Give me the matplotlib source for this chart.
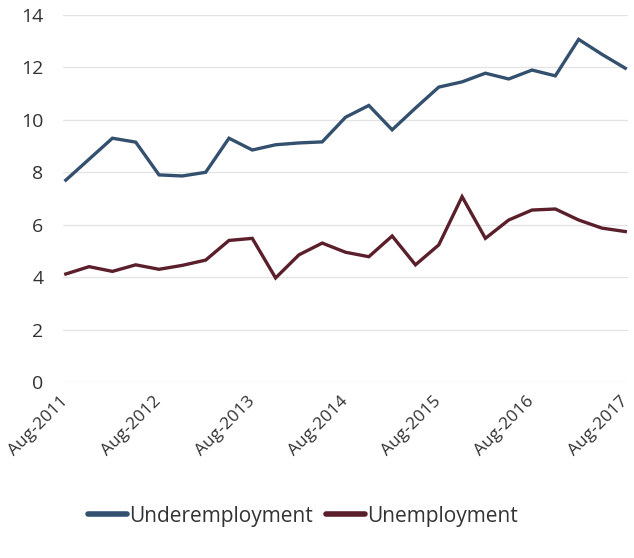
import matplotlib
matplotlib.use("Agg")
import matplotlib.pyplot as plt
import numpy as np

plt.rcParams['font.family'] = ['Open Sans', 'DejaVu Sans']

# quarterly series, Aug-2011 .. Aug-2017
quarters = ['Aug-2011', 'Nov-2011', 'Feb-2012', 'May-2012',
            'Aug-2012', 'Nov-2012', 'Feb-2013', 'May-2013',
            'Aug-2013', 'Nov-2013', 'Feb-2014', 'May-2014',
            'Aug-2014', 'Nov-2014', 'Feb-2015', 'May-2015',
            'Aug-2015', 'Nov-2015', 'Feb-2016', 'May-2016',
            'Aug-2016', 'Nov-2016', 'Feb-2017', 'May-2017',
            'Aug-2017']
underemployment = [7.7, 8.5, 9.3, 9.15, 7.9, 7.86, 8.0, 9.3, 8.85, 9.05,
                   9.12, 9.16, 10.1, 10.55, 9.62, 10.45, 11.25, 11.45,
                   11.78, 11.56, 11.9, 11.68, 13.07, 12.5, 11.97]
unemployment = [4.12, 4.4, 4.22, 4.47, 4.3, 4.45, 4.65, 5.4, 5.48, 3.97,
                4.85, 5.3, 4.95, 4.78, 5.57, 4.47, 5.23, 7.07, 5.48, 6.18,
                6.56, 6.6, 6.18, 5.87, 5.74]

blue = '#34506f'
maroon = '#5a1f2b'
txt = '#333333'

fig = plt.figure(figsize=(6.34, 5.58), dpi=100)
ax = fig.add_axes([0.099, 0.3154, 0.892, 0.6577])

x = np.arange(len(quarters))
ax.plot(x, underemployment, color=blue, lw=2.4, solid_joinstyle='miter',
        label='Underemployment')
ax.plot(x, unemployment, color=maroon, lw=2.4, solid_joinstyle='miter',
        label='Unemployment')

ax.set_ylim(0, 14)
ax.set_yticks(range(0, 15, 2))
ax.set_xlim(-0.13, 24.13)
ax.set_xticks(x[::4])
ax.set_xticklabels(quarters[::4], rotation=45, ha='right', va='center',
                   rotation_mode='anchor', fontsize=12.5, color=txt)
ax.tick_params(axis='y', length=0, pad=14, labelsize=14, labelcolor=txt)
ax.tick_params(axis='x', length=0, pad=12)

for s in ax.spines.values():
    s.set_visible(False)
ax.yaxis.grid(True, color='#e3e3e3', lw=0.9)
ax.set_axisbelow(True)

leg = fig.legend(loc='center', bbox_to_anchor=(0.478, 0.075), ncol=2,
                 frameon=False, fontsize=15, handlelength=1.9,
                 handletextpad=0.1, columnspacing=0.6, labelcolor=txt)
for h in leg.get_lines():
    h.set_linewidth(4)
    h.set_solid_capstyle('round')

fig.savefig('out.png', dpi=100, facecolor='white')
